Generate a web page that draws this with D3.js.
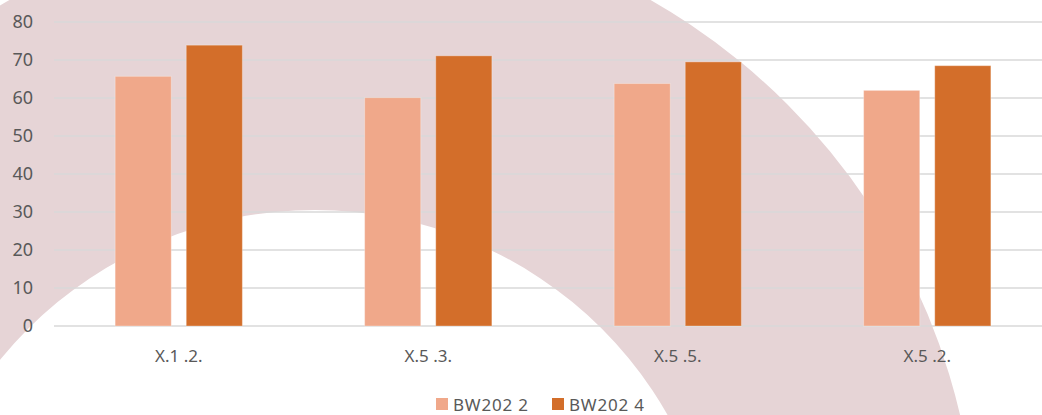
<!DOCTYPE html>
<html>
<head>
<meta charset="utf-8">
<script src="https://cdn.jsdelivr.net/npm/d3@7"></script>
<style>
  html, body { margin: 0; padding: 0; background: #ffffff; }
  svg { display: block; }
  text { font-family: "Noto Sans", "Open Sans", sans-serif; fill: #595959; }
</style>
</head>
<body>
<div id="chart"></div>
<script>
const categories = ["X.1 .2.", "X.5 .3.", "X.5 .5.", "X.5 .2."];
const seriesNames = ["BW202 2", "BW202 4"];
const bw2022 = [65.7, 60.1, 63.8, 62.0];
const bw2024 = [73.9, 71.1, 69.5, 68.5];
const yTicks = [0, 10, 20, 30, 40, 50, 60, 70, 80];
const colors = ["#f0a88a", "#d36e2a"];

const W = 1042, H = 415;
const svg = d3.select("#chart").append("svg").attr("width", W).attr("height", H);
svg.append("rect").attr("width", W).attr("height", H).attr("fill", "#ffffff");

// decorative ring in the background
const ring = d3.path();
const oc = [330, 562], orad = 647, ic = [315, 615.75], irad = 405.75;
ring.moveTo(oc[0] + orad, oc[1]);
ring.arc(oc[0], oc[1], orad, 0, 2 * Math.PI);
ring.moveTo(ic[0] + irad, ic[1]);
ring.arc(ic[0], ic[1], irad, 0, 2 * Math.PI, true);
ring.closePath();
svg.append("path").attr("d", ring.toString()).attr("fill", "#e6d4d6").attr("fill-rule", "evenodd");

const y = d3.scaleLinear().domain([0, 80]).range([326, 22]);
const x0 = d3.scaleBand().domain(categories).range([54, 1052]).paddingInner(0).paddingOuter(0);
const x1 = d3.scaleBand().domain(seriesNames).range([0, x0.bandwidth()]).paddingInner(0.211).paddingOuter(0.86);

// gridlines
svg.append("g").selectAll("line").data(yTicks).join("line")
  .attr("x1", 54).attr("x2", W)
  .attr("y1", d => y(d)).attr("y2", d => y(d))
  .attr("stroke", "#d9d9d9").attr("stroke-width", 1.5);

// y tick labels
svg.append("g").selectAll("text").data(yTicks).join("text")
  .attr("x", 33).attr("y", d => y(d)).attr("dy", "0.35em")
  .attr("text-anchor", "end").attr("font-size", 18)
  .text(d => d);

// bars
const data = categories.map((c, i) => ({ cat: c, vals: [bw2022[i], bw2024[i]] }));
const groups = svg.append("g").selectAll("g").data(data).join("g")
  .attr("transform", d => `translate(${x0(d.cat)},0)`);
groups.selectAll("rect").data(d => d.vals.map((v, j) => ({ s: seriesNames[j], v, j })))
  .join("rect")
  .attr("x", d => x1(d.s)).attr("width", x1.bandwidth())
  .attr("y", d => y(d.v)).attr("height", d => y(0) - y(d.v))
  .attr("fill", d => colors[d.j])
  .attr("stroke", "rgba(255,255,255,0.3)").attr("stroke-width", 1);

// category labels
svg.append("g").selectAll("text").data(categories).join("text")
  .attr("x", d => x0(d) + x0.bandwidth() / 2).attr("y", 362)
  .attr("text-anchor", "middle").attr("font-size", 17)
  .text(d => d);

// legend
const legendX = [436, 552];
const lg = svg.append("g").selectAll("g").data(seriesNames).join("g")
  .attr("transform", (d, i) => `translate(${legendX[i]},398)`);
lg.append("rect").attr("width", 12).attr("height", 12).attr("fill", (d, i) => colors[i]);
lg.append("text").attr("x", 17).attr("y", 12.5).attr("font-size", 17)
  .attr("letter-spacing", "0.8px").text(d => d);
</script>
</body>
</html>
